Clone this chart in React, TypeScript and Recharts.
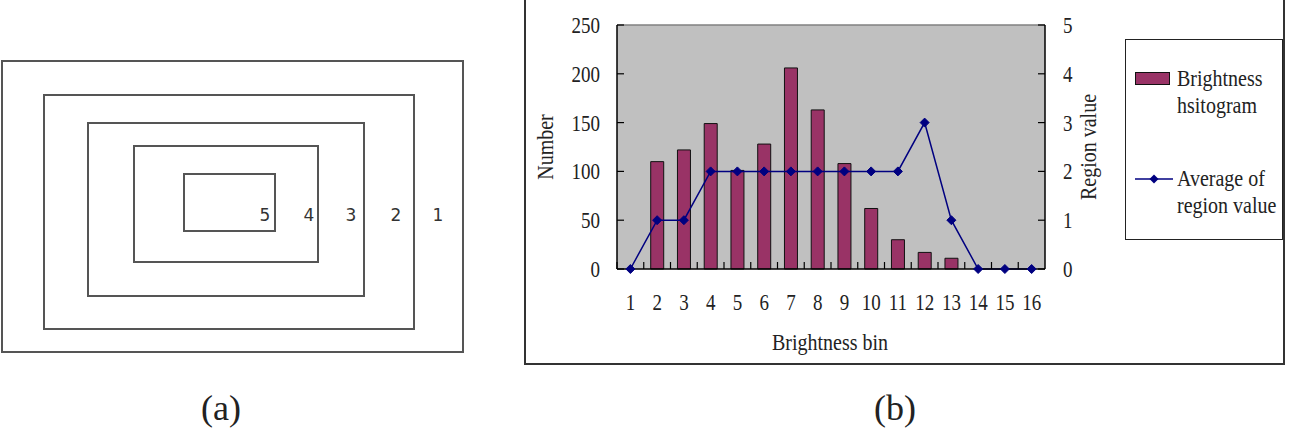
import React from "react";
import {
  ComposedChart,
  Bar,
  Line,
  XAxis,
  YAxis,
  ReferenceLine,
} from "recharts";

const bins = ["1", "2", "3", "4", "5", "6", "7", "8", "9", "10", "11", "12", "13", "14", "15", "16"];
const histogram = [0, 110, 122, 149, 101, 128, 206, 163, 108, 62, 30, 17, 11, 0, 0, 0];
const regionAvg = [0, 1, 1, 2, 2, 2, 2, 2, 2, 2, 2, 3, 1, 0, 0, 0];
const leftTicks = [0, 50, 100, 150, 200, 250];
const rightTicks = [0, 1, 2, 3, 4, 5];
const ringLabels = ["5", "4", "3", "2", "1"];

const SERIF = "'Liberation Serif', 'DejaVu Serif', serif";
const BAR_FILL = "#993366";
const LINE_COLOR = "#000080";
const PLOT_BG = "#c0c0c0";
const TEXT = "#222";
const STRETCH = 1.2; // the source font is tall and narrow
const TICK_COLOR = "#000";

// nested regions of panel (a): left, top, right, bottom
const rings = [
  [1, 60, 464, 353],
  [43, 94, 415, 330],
  [87, 122, 365, 297],
  [133, 145, 319, 263],
  [183, 173, 276, 232],
];
const ringLabelX = [265, 309, 351, 396, 438];

// chart frame
const CH_W = 758;
const CH_H = 363;
const MARGIN = { top: 25, right: 198, bottom: 64, left: 32 };
const LEFT_AXIS_W = 60;
const RIGHT_AXIS_W = 40;
const X_AXIS_H = 30;

const LEFT_GAP = 17;
const RIGHT_GAP = 18;
const BOTTOM_GAP = 33;
const TICK_LEN = 7;

const Diamond = (props: any) => {
  const { cx, cy, index } = props;
  if (cx == null || cy == null) return null;
  const r = 4.5;
  return (
    <polygon
      key={`d-${index}`}
      points={`${cx},${cy - r} ${cx + r},${cy} ${cx},${cy + r} ${cx - r},${cy}`}
      fill={LINE_COLOR}
      stroke={LINE_COLOR}
    />
  );
};

const tallText = (x: number, y: number, anchor: string, value: any) => (
  <text
    transform={`translate(${x},${y}) scale(1,${STRETCH})`}
    textAnchor={anchor}
    dy="0.35em"
    fontFamily={SERIF}
    fontSize={19}
    fill={TEXT}
  >
    {value}
  </text>
);

// ticks point into the plot, so they are drawn by the tick components
const LeftTick = (props: any) => {
  const x = Number(props.x);
  const y = Number(props.y);
  return (
    <g>
      <line x1={x + LEFT_GAP} x2={x + LEFT_GAP + TICK_LEN} y1={y} y2={y} stroke={TICK_COLOR} strokeWidth={1.2} />
      {tallText(x, y, "end", props.payload.value)}
    </g>
  );
};

const RightTick = (props: any) => {
  const x = Number(props.x);
  const y = Number(props.y);
  return (
    <g>
      <line x1={x - RIGHT_GAP} x2={x - RIGHT_GAP - TICK_LEN} y1={y} y2={y} stroke={TICK_COLOR} strokeWidth={1.2} />
      {tallText(x, y, "start", props.payload.value)}
    </g>
  );
};

// category label plus the tick on the category's left boundary
const BinTick = (props: any) => {
  const x = Number(props.x);
  const y = Number(props.y);
  const half = Number(props.payload?.offset) || 0;
  const axisY = y - BOTTOM_GAP;
  return (
    <g>
      {half > 0 && (
        <line
          x1={x - half}
          x2={x - half}
          y1={axisY}
          y2={axisY - TICK_LEN}
          stroke={TICK_COLOR}
          strokeWidth={1.2}
        />
      )}
      {tallText(x, y, "middle", props.payload.value)}
    </g>
  );
};

function PanelA() {
  return (
    <>
      {rings.map(([l, t, r, b], i) => (
        <div
          key={i}
          style={{
            position: "absolute",
            left: l,
            top: t,
            width: r - l,
            height: b - t,
            border: "2px solid #555",
            boxSizing: "border-box",
          }}
        />
      ))}
      {ringLabels.map((s, i) => (
        <div
          key={s}
          style={{
            position: "absolute",
            left: ringLabelX[i] - 10,
            top: 205,
            width: 20,
            textAlign: "center",
            fontFamily: "'DejaVu Sans', sans-serif",
            fontSize: 17,
            color: "#333",
          }}
        >
          {s}
        </div>
      ))}
    </>
  );
}

const titleStyle = (cx: number, cy: number, w: number, rotate: boolean): React.CSSProperties => ({
  position: "absolute",
  left: cx - w / 2,
  top: cy - 12,
  width: w,
  textAlign: "center",
  transform: `${rotate ? "rotate(-90deg) " : ""}scaleY(${STRETCH - 0.03})`,
  fontFamily: SERIF,
  fontSize: 20,
  lineHeight: "24px",
  color: TEXT,
  whiteSpace: "nowrap",
});

function PanelB() {
  const data = bins.map((b, i) => ({ bin: b, count: histogram[i], avg: regionAvg[i] }));
  const plotLeft = MARGIN.left + LEFT_AXIS_W;
  const plotW = CH_W - plotLeft - MARGIN.right - RIGHT_AXIS_W;
  const plotH = CH_H - MARGIN.top - MARGIN.bottom - X_AXIS_H;
  return (
    <>
      <div
        style={{
          position: "absolute",
          left: 524,
          top: -2,
          width: 761,
          height: 367,
          border: "2px solid #333",
          boxSizing: "border-box",
        }}
      />
      <div style={{ position: "absolute", left: 525, top: 0, width: CH_W, height: CH_H }}>
        {/* plot background behind the svg */}
        <div
          style={{
            position: "absolute",
            left: plotLeft,
            top: MARGIN.top,
            width: plotW,
            height: plotH,
            background: PLOT_BG,
          }}
        />
        <ComposedChart
          width={CH_W}
          height={CH_H}
          data={data}
          margin={MARGIN}
          barCategoryGap="26%"
          style={{ position: "absolute", left: 0, top: 0 }}
        >
          <XAxis
            dataKey="bin"
            height={X_AXIS_H}
            interval={0}
            tickLine={false}
            tickSize={0}
            tickMargin={BOTTOM_GAP}
            axisLine={{ stroke: "#000", strokeWidth: 1.5 }}
            tick={BinTick}
          />
          <YAxis
            yAxisId="left"
            width={LEFT_AXIS_W}
            domain={[0, 250]}
            ticks={leftTicks}
            tickLine={false}
            tickSize={0}
            tickMargin={LEFT_GAP}
            axisLine={{ stroke: "#000", strokeWidth: 1.5 }}
            tick={LeftTick}
          />
          <YAxis
            yAxisId="right"
            orientation="right"
            width={RIGHT_AXIS_W}
            domain={[0, 5]}
            ticks={rightTicks}
            tickLine={false}
            tickSize={0}
            tickMargin={RIGHT_GAP}
            axisLine={{ stroke: "#000", strokeWidth: 1.5 }}
            tick={RightTick}
          />
          <ReferenceLine yAxisId="left" y={250} stroke="#808080" strokeWidth={1.5} />
          <Bar
            yAxisId="left"
            dataKey="count"
            fill={BAR_FILL}
            stroke="#111"
            strokeWidth={1}
            isAnimationActive={false}
          />
          <Line
            yAxisId="right"
            dataKey="avg"
            type="linear"
            stroke={LINE_COLOR}
            strokeWidth={1.5}
            dot={Diamond}
            activeDot={false}
            isAnimationActive={false}
          />
        </ComposedChart>
      </div>

      {/* axis titles */}
      <div style={titleStyle(545, 147, 120, true)}>Number</div>
      <div style={titleStyle(1088, 147, 160, true)}>Region value</div>
      <div style={titleStyle(830, 342, 200, false)}>Brightness bin</div>

      {/* legend */}
      <div
        style={{
          position: "absolute",
          left: 1125,
          top: 39,
          width: 158,
          height: 201,
          border: "1.5px solid #222",
          boxSizing: "border-box",
          background: "#fff",
          fontFamily: SERIF,
          fontSize: 20,
          lineHeight: "23px",
          color: TEXT,
        }}
      >
        <div
          style={{
            position: "absolute",
            left: 9,
            top: 32,
            width: 35,
            height: 13,
            background: BAR_FILL,
            border: "1px solid #111",
            boxSizing: "border-box",
          }}
        />
        <div
          style={{
            position: "absolute",
            left: 51,
            top: 29,
            whiteSpace: "nowrap",
            transform: `scaleY(${STRETCH - 0.03})`,
          }}
        >
          Brightness
          <br />
          hsitogram
        </div>
        <svg style={{ position: "absolute", left: 9, top: 133 }} width={40} height={12}>
          <line x1={0} y1={6} x2={38} y2={6} stroke={LINE_COLOR} strokeWidth={1.5} />
          <polygon points="19,1.5 23.5,6 19,10.5 14.5,6" fill={LINE_COLOR} />
        </svg>
        <div
          style={{
            position: "absolute",
            left: 51,
            top: 129,
            whiteSpace: "nowrap",
            transform: `scaleY(${STRETCH - 0.03})`,
          }}
        >
          Average of
          <br />
          region value
        </div>
      </div>
    </>
  );
}

const captionStyle = (cx: number): React.CSSProperties => ({
  position: "absolute",
  left: cx - 40,
  top: 388,
  width: 80,
  textAlign: "center",
  fontFamily: SERIF,
  fontSize: 36,
  lineHeight: "40px",
  color: TEXT,
});

export default function App() {
  return (
    <div
      style={{
        position: "absolute",
        left: 0,
        top: 0,
        width: 1295,
        height: 438,
        background: "#fff",
        overflow: "hidden",
      }}
    >
      <PanelA />
      <PanelB />
      <div style={captionStyle(221)}>(a)</div>
      <div style={captionStyle(895)}>(b)</div>
    </div>
  );
}
